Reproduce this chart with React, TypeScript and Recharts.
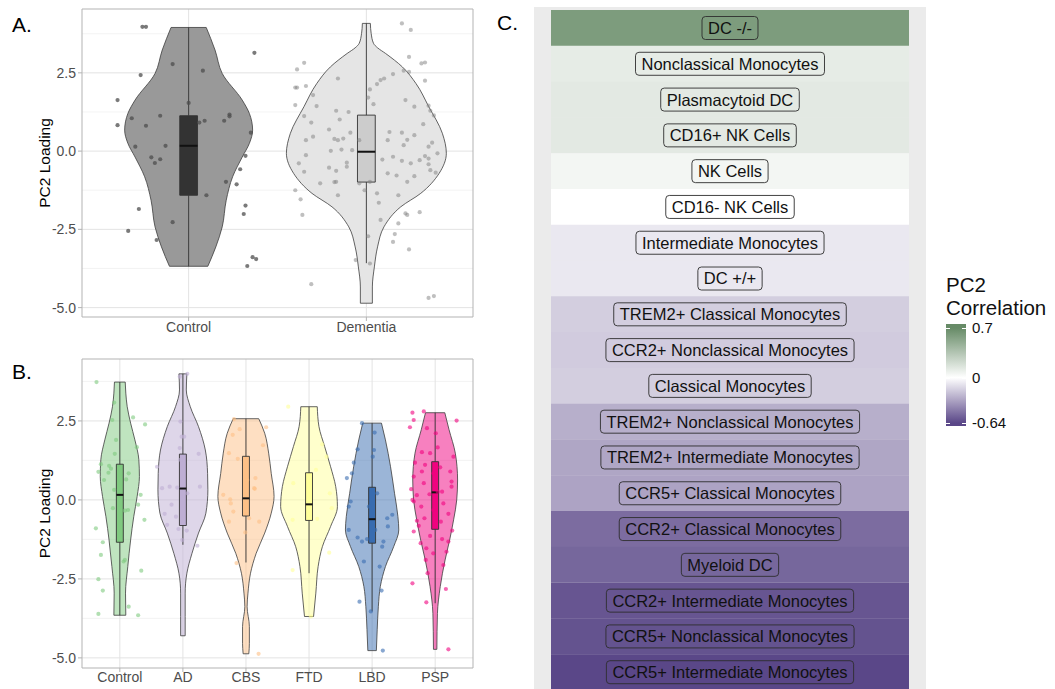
import React from 'react'
import {
  ComposedChart, Area, Line, Scatter, XAxis, YAxis, CartesianGrid, ReferenceArea,
  BarChart, Bar, Cell, LabelList,
} from 'recharts'

const groupsA = ['Control', 'Dementia']
const groupsB = ['Control', 'AD', 'CBS', 'FTD', 'LBD', 'PSP']
const yTicks = [-5, -2.5, 0, 2.5]
const yMinor = [-3.75, -1.25, 1.25, 3.75]

// violin outlines: [PC2 loading, relative density]
const violinControlA = [[3.95, 0.22], [3.23, 0.33], [2.48, 0.42], [1.63, 0.67], [1.2, 0.76], [0.67, 0.8], [0.25, 0.76], [-0.19, 0.67], [-0.82, 0.55], [-1.57, 0.47], [-2.42, 0.42], [-3.06, 0.34], [-3.68, 0.24]]
const violinDementiaA = [[4.08, 0.05], [3.76, 0.06], [3.44, 0.09], [3.3, 0.14], [3.12, 0.24], [2.69, 0.45], [2.16, 0.62], [1.42, 0.78], [0.57, 0.95], [-0.07, 1.0], [-0.71, 0.91], [-1.35, 0.68], [-1.78, 0.43], [-2.42, 0.22], [-3.06, 0.14], [-3.7, 0.1], [-4.34, 0.075], [-4.86, 0.075]]

const violinControlB = [[3.73, 0.19], [3.38, 0.21], [2.95, 0.26], [2.43, 0.38], [1.9, 0.53], [1.27, 0.67], [0.74, 0.69], [0.11, 0.61], [-0.53, 0.49], [-1.27, 0.38], [-2.11, 0.28], [-2.95, 0.2], [-3.65, 0.21]]
const violinAD = [[3.99, 0.14], [3.48, 0.12], [2.95, 0.26], [2.32, 0.55], [1.58, 0.79], [0.84, 0.87], [0.32, 0.88], [-0.42, 0.81], [-1.05, 0.55], [-1.69, 0.32], [-2.32, 0.14], [-2.95, 0.08], [-3.69, 0.08], [-4.3, 0.08]]
const violinCBS = [[2.57, 0.45], [2.11, 0.66], [1.48, 0.8], [0.84, 0.89], [0.11, 0.99], [-0.42, 0.89], [-1.05, 0.66], [-1.69, 0.36], [-2.32, 0.16], [-2.95, 0.07], [-3.38, 0.04], [-4.01, 0.12], [-4.54, 0.12], [-4.87, 0.1]]
const violinFTD = [[2.95, 0.29], [2.32, 0.35], [1.69, 0.55], [1.05, 0.76], [0.42, 0.94], [-0.21, 1.0], [-0.84, 0.76], [-1.48, 0.47], [-2.11, 0.32], [-2.95, 0.24], [-3.69, 0.16]]
const violinLBD = [[2.43, 0.33], [1.9, 0.47], [1.05, 0.65], [0.21, 0.79], [-0.53, 0.91], [-0.95, 0.94], [-1.48, 0.76], [-2.11, 0.47], [-2.74, 0.29], [-3.38, 0.22], [-4.11, 0.18], [-4.77, 0.15]]
const violinPSP = [[2.76, 0.34], [2.22, 0.49], [1.48, 0.71], [0.63, 0.79], [0.0, 0.76], [-0.63, 0.65], [-1.27, 0.51], [-1.9, 0.35], [-2.74, 0.18], [-3.59, 0.08], [-4.73, 0.06]]

// box stats: [lower whisker, q1, median, q3, upper whisker]
const boxesA = [[-3.68, -1.41, 0.17, 1.13, 3.95], [-3.58, -0.99, -0.02, 1.15, 4.08]]
const boxesB = [
  [-3.65, -1.34, 0.16, 1.13, 3.73],
  [-1.42, -0.81, 0.36, 1.45, 3.99],
  [-1.98, -0.51, 0.05, 1.38, 2.57],
  [-2.32, -0.65, -0.14, 0.86, 2.95],
  [-3.53, -1.37, -0.61, 0.4, 2.43],
  [-3.27, -0.93, 0.24, 1.21, 2.76],
]

// jittered points: [horizontal jitter, PC2 loading]
const pointsControlA = [[-0.26, 3.97], [-0.24, 3.97], [0.37, 3.14], [-0.09, 2.78], [0.08, 2.57], [-0.27, 2.43], [-0.4, 1.63], [0.0, 1.54], [-0.16, 1.13], [0.23, 1.17], [0.23, 1.11], [-0.32, 1.05], [0.2, 0.97], [0.09, 0.97], [-0.4, 0.83], [-0.24, 0.81], [0.06, 0.91], [0.35, 0.59], [-0.3, 0.14], [-0.13, 0.17], [-0.21, -0.2], [-0.16, -0.26], [-0.19, -0.38], [0.32, -0.15], [0.29, -0.58], [0.21, -0.98], [0.27, -1.06], [0.1, -1.41], [0.32, -1.74], [-0.28, -1.85], [0.31, -2.01], [-0.09, -2.27], [-0.34, -2.55], [-0.18, -2.84], [0.36, -3.39], [0.38, -3.45], [0.33, -3.67]]
const pointsDementiaA = [[0.2, 4.08], [0.25, 3.87], [0.24, 3.01], [0.33, 2.83], [0.31, 2.8], [-0.35, 2.82], [-0.39, 2.61], [0.21, 2.57], [0.24, 2.53], [0.15, 2.46], [0.1, 2.32], [0.08, 2.27], [-0.16, 2.32], [0.33, 2.25], [-0.4, 2.03], [-0.39, 2.03], [-0.34, 2.08], [0.06, 2.14], [0.02, 1.97], [0.01, 1.71], [-0.3, 1.79], [0.22, 1.63], [0.04, 1.5], [-0.4, 1.47], [-0.28, 1.44], [0.35, 1.45], [0.27, 1.42], [0.36, 1.29], [-0.1, 1.25], [-0.17, 1.29], [-0.35, 1.12], [0.38, 1.14], [-0.31, 0.91], [-0.15, 1.01], [0.32, 0.86], [-0.21, 0.69], [-0.09, 0.59], [0.13, 0.61], [0.2, 0.59], [0.27, 0.51], [0.23, 0.36], [-0.3, 0.46], [-0.18, 0.39], [-0.16, 0.35], [-0.13, 0.4], [-0.34, 0.35], [0.12, 0.35], [-0.04, 0.35], [0.37, 0.27], [0.21, 0.19], [0.35, 0.14], [-0.2, 0.01], [-0.14, 0.05], [-0.08, 0.03], [0.4, -0.07], [-0.34, -0.13], [0.33, -0.16], [0.35, -0.24], [0.3, -0.29], [0.25, -0.39], [0.2, -0.31], [0.15, -0.18], [0.09, -0.27], [0.35, -0.42], [-0.11, -0.37], [-0.38, -0.39], [-0.21, -0.53], [-0.11, -0.5], [-0.35, -0.66], [-0.17, -0.63], [0.39, -0.69], [0.12, -0.71], [0.17, -0.78], [0.27, -0.8], [0.36, -0.61], [-0.26, -1.03], [-0.18, -0.99], [-0.17, -0.98], [-0.04, -1.03], [0.02, -0.98], [0.23, -0.98], [-0.01, -1.25], [-0.4, -1.25], [-0.16, -1.41], [0.06, -1.35], [0.18, -1.41], [-0.37, -1.54], [0.07, -1.65], [0.22, -1.99], [0.23, -2.04], [0.3, -1.95], [-0.36, -2.04], [0.08, -2.2], [0.18, -2.31], [0.16, -2.65], [0.15, -2.9], [0.01, -2.72], [0.24, -3.14], [-0.06, -3.48], [0.02, -3.59], [-0.31, -4.25], [0.38, -4.63], [0.35, -4.69]]

const pointsControlB = [[-0.37, 3.73], [-0.09, 3.08], [0.21, 2.61], [0.4, 2.39], [-0.12, 2.53], [0.27, 1.67], [-0.08, 1.46], [-0.3, 1.13], [-0.17, 1.08], [-0.14, 0.99], [0.14, 0.84], [-0.34, 0.89], [-0.18, 0.86], [-0.25, 0.63], [0.1, 0.65], [0.33, 0.16], [0.29, -0.15], [0.13, -0.32], [0.08, -0.34], [-0.11, -0.26], [0.39, -0.63], [-0.38, -0.9], [-0.27, -1.34], [-0.3, -1.74], [0.08, -1.9], [0.06, -1.95], [0.34, -2.24], [-0.34, -2.51], [-0.27, -2.87], [0.14, -3.38], [-0.34, -3.61], [0.29, -3.65], [-0.06, 1.9], [-0.09, 0.32]]
const pointsAD = [[0.07, 3.99], [-0.05, 3.9], [-0.04, 2.48], [-0.02, 2.0], [0.02, 2.0], [-0.05, 1.64], [-0.04, 1.27], [0.25, 1.46], [-0.41, 1.05], [-0.21, 0.42], [-0.33, 0.37], [-0.09, 0.39], [0.27, 0.42], [0.07, 0.21], [-0.18, -0.15], [-0.29, -0.44], [-0.11, -0.53], [-0.25, -0.79], [-0.07, -0.92], [0.06, -0.97], [0.23, -1.45], [-0.01, -1.27]]
const pointsCBS = [[-0.19, 2.56], [0.32, 2.3], [-0.1, 2.24], [-0.21, 2.06], [0.27, 1.73], [-0.27, 1.48], [-0.13, 1.3], [0.15, 0.69], [0.02, 0.63], [0.14, 0.35], [-0.36, 0.16], [-0.25, 0.02], [-0.24, -0.11], [-0.2, -0.37], [0.05, -0.58], [-0.27, -0.69], [0.21, -0.69], [-0.01, -1.03], [-0.15, -2.0], [0.2, -4.87], [0.13, 0.37]]
const pointsFTD = [[-0.33, 2.95], [0.21, 1.76], [0.28, 1.37], [-0.25, 0.53], [0.33, 0.21], [0.36, -0.26], [-0.26, -0.63], [0.13, -0.6], [0.32, -1.67], [-0.26, -2.22], [0.03, -3.69], [0.11, 0.95]]
const pointsLBD = [[-0.16, 2.43], [0.04, 2.13], [-0.23, 1.6], [0.03, 1.58], [-0.29, 1.18], [-0.32, 0.84], [0.01, 1.37], [0.08, 0.21], [-0.34, -0.05], [-0.37, -0.21], [-0.05, -0.21], [0.32, -0.47], [0.24, -0.58], [-0.37, -0.95], [0.25, -0.84], [-0.23, -1.19], [-0.16, -1.32], [0.18, -1.32], [0.16, -1.48], [-0.08, -1.24], [-0.13, -1.95], [0.12, -2.11], [0.15, -2.87], [-0.2, -3.22], [-0.02, -3.53], [0.17, -4.77], [-0.4, 0.69], [0.05, -0.95]]
const pointsPSP = [[-0.36, 2.76], [-0.18, 2.8], [-0.34, 2.53], [-0.4, 2.3], [-0.13, 2.27], [0.34, 2.51], [0.01, 2.11], [0.04, 1.66], [-0.21, 1.51], [-0.08, 1.48], [0.29, 1.37], [-0.32, 1.18], [-0.16, 1.11], [0.08, 1.03], [-0.03, 0.84], [-0.34, 0.74], [-0.18, 0.53], [0.26, 0.58], [0.26, 0.42], [-0.38, 0.34], [0.11, 0.26], [-0.29, 0.15], [-0.09, 0.18], [-0.36, 0.0], [-0.34, -0.05], [0.13, -0.11], [-0.22, -0.21], [-0.03, -0.32], [0.21, -0.44], [-0.17, -0.58], [-0.29, -0.66], [0.09, -0.69], [-0.26, -0.82], [-0.34, -1.0], [0.27, -0.97], [-0.08, -1.14], [0.11, -1.24], [-0.23, -1.37], [0.21, -1.32], [-0.14, -1.53], [0.18, -1.64], [-0.03, -1.69], [-0.15, -1.9], [0.13, -2.06], [-0.12, -2.32], [-0.36, -2.64], [0.17, -2.82], [-0.14, -3.24], [0.21, -4.73], [0.04, 0.26], [-0.21, 0.9], [0.24, 0.9]]

// heatmap of PC2 correlations
const cells = ['DC -/-', 'Nonclassical Monocytes', 'Plasmacytoid DC', 'CD16+ NK Cells', 'NK Cells', 'CD16- NK Cells', 'Intermediate Monocytes', 'DC +/+', 'TREM2+ Classical Monocytes', 'CCR2+ Nonclassical Monocytes', 'Classical Monocytes', 'TREM2+ Nonclassical Monocytes', 'TREM2+ Intermediate Monocytes', 'CCR5+ Classical Monocytes', 'CCR2+ Classical Monocytes', 'Myeloid DC', 'CCR2+ Intermediate Monocytes', 'CCR5+ Nonclassical Monocytes', 'CCR5+ Intermediate Monocytes']
const correlations = [0.6, 0.115, 0.13, 0.13, 0.055, 0.0, -0.08, -0.08, -0.17, -0.18, -0.17, -0.28, -0.31, -0.32, -0.51, -0.53, -0.59, -0.6, -0.64]
const corrLimits = [-0.64, 0.7]
const legendBreaks = [0.7, 0, -0.64]

const accent = ['#7FC97F', '#BEAED4', '#FDC086', '#FFFF99', '#386CB0', '#F0027F']
const HALF = 0.45
const FONT = '"Liberation Sans", Arial, sans-serif'
const LOW = [90, 71, 136]
const HIGH = [103, 139, 103]

function heatColor(v: number) {
  const [end, t] = v < 0 ? [LOW, v / corrLimits[0]] : [HIGH, v / corrLimits[1]]
  const c = end.map((e) => Math.round(255 + (e - 255) * Math.min(1, t)))
  return `rgb(${c[0]},${c[1]},${c[2]})`
}

type Style = { violin: string; violinOpacity: number; box: string; point: string; pointOpacity: number }

function groupSeries(key: string, center: number, profile: number[][], box: number[], pts: number[][], st: Style, boxHalf: number) {
  const outline = '#3C3C3C'
  const top = profile[0]
  const bottom = profile[profile.length - 1]
  const shape = profile.map(([v, d]) => ({ y: v, span: [center - d * HALF, center + d * HALF] }))
  const capTop = [{ y: top[0], w: center - top[1] * HALF }, { y: top[0], w: center + top[1] * HALF }]
  const capBottom = [{ y: bottom[0], w: center - bottom[1] * HALF }, { y: bottom[0], w: center + bottom[1] * HALF }]
  const [lo, q1, med, q3, hi] = box
  const boxFill = [{ y: q1, span: [center - boxHalf, center + boxHalf] }, { y: q3, span: [center - boxHalf, center + boxHalf] }]
  const boxLine = [
    { y: q1, w: center - boxHalf }, { y: q3, w: center - boxHalf }, { y: q3, w: center + boxHalf },
    { y: q1, w: center + boxHalf }, { y: q1, w: center - boxHalf },
  ]
  const medLine = [{ y: med, w: center - boxHalf }, { y: med, w: center + boxHalf }]
  const whiskTop = [{ y: q3, w: center }, { y: hi, w: center }]
  const whiskBottom = [{ y: lo, w: center }, { y: q1, w: center }]
  const jitter = pts.map(([dx, v]) => ({ x: center + dx, y: v }))
  const lineProps = { type: 'linear' as const, dataKey: 'w', dot: false, activeDot: false, isAnimationActive: false }
  return [
    <Area key={key + 'v'} data={shape} dataKey="span" type="monotone" fill={st.violin} fillOpacity={st.violinOpacity} stroke={outline} strokeWidth={0.8} dot={false} activeDot={false} isAnimationActive={false} />,
    <Area key={key + 'b'} data={boxFill} dataKey="span" type="linear" fill={st.box} fillOpacity={1} stroke="none" dot={false} activeDot={false} isAnimationActive={false} />,
    <Line key={key + 'ct'} data={capTop} stroke={outline} strokeWidth={0.8} {...lineProps} />,
    <Line key={key + 'cb'} data={capBottom} stroke={outline} strokeWidth={0.8} {...lineProps} />,
    <Line key={key + 'wt'} data={whiskTop} stroke="#333" strokeWidth={0.9} {...lineProps} />,
    <Line key={key + 'wb'} data={whiskBottom} stroke="#333" strokeWidth={0.9} {...lineProps} />,
    <Line key={key + 'bl'} data={boxLine} stroke="#333" strokeWidth={0.9} {...lineProps} />,
    <Line key={key + 'md'} data={medLine} stroke="#111" strokeWidth={2} {...lineProps} />,
    <Scatter key={key + 'p'} data={jitter} isAnimationActive={false}
      shape={(p: any) => <circle cx={p.cx} cy={p.cy} r={2.1} fill={st.point} fillOpacity={st.pointOpacity} />} />,
  ]
}

function ViolinPanel(props: {
  groups: string[]; violins: number[][][]; boxes: number[][]; points: number[][][]; styles: Style[]
  yDomain: number[]; width: number; height: number; top: number; xHeight: number; boxHalf: number; tickMargin: number
}) {
  const { groups, violins, boxes, points, styles, yDomain, width, height, top, xHeight, boxHalf, tickMargin } = props
  const xDomain = [0.4, groups.length + 0.6]
  const tickStyle = { fontSize: 14, fill: '#4D4D4D', fontFamily: FONT }
  return (
    <ComposedChart layout="vertical" width={width} height={height} margin={{ top, right: 7, bottom: 0, left: 0 }}>
      <CartesianGrid horizontalValues={yMinor} vertical={false} stroke="#F0F0F0" strokeWidth={0.8} />
      <CartesianGrid horizontalValues={yTicks} verticalValues={groups.map((_, i) => i + 1)} stroke="#E3E3E3" strokeWidth={1} />
      <XAxis type="number" dataKey="x" domain={xDomain} allowDataOverflow ticks={groups.map((_, i) => i + 1)} interval={0}
        tickFormatter={(v: number) => groups[v - 1]} height={xHeight} axisLine={false} tickSize={4} tickMargin={tickMargin}
        tickLine={{ stroke: '#B3B3B3' }} tick={tickStyle} />
      <YAxis type="number" dataKey="y" domain={yDomain} allowDataOverflow reversed ticks={yTicks} interval={0} width={82}
        tickFormatter={(v: number) => v.toFixed(1)} axisLine={false} tickSize={4} tickMargin={2}
        tickLine={{ stroke: '#B3B3B3' }} tick={tickStyle}
        label={{ value: 'PC2 Loading', angle: -90, position: 'center', dx: 3, style: { fontSize: 15.5, fill: '#000', fontFamily: FONT } }} />
      {groups.flatMap((g, i) => groupSeries(g + i, i + 1, violins[i], boxes[i], points[i], styles[i], boxHalf))}
      <ReferenceArea x1={xDomain[0]} x2={xDomain[1]} y1={yDomain[0]} y2={yDomain[1]} fill="none" stroke="#B3B3B3" strokeWidth={1} ifOverflow="visible" />
    </ComposedChart>
  )
}

let measureCtx: CanvasRenderingContext2D | null = null
const LABEL_FONT = `16.5px ${FONT}`
function textWidth(s: string) {
  if (!measureCtx) measureCtx = document.createElement('canvas').getContext('2d')
  if (!measureCtx) return s.length * 8
  measureCtx.font = LABEL_FONT
  return measureCtx.measureText(s).width
}

const renderCellLabel = (props: any) => {
  const vb = props.viewBox ?? props
  const { x, y, width, height } = vb
  const value = String(props.value)
  const idx = cells.indexOf(value)
  const cx = x + width / 2
  const cy = y + height / 2
  const w = textWidth(value) + 12
  return (
    <g>
      <rect x={cx - w / 2} y={cy - 11.5} width={w} height={23} rx={3.5} fill={heatColor(correlations[idx])} stroke="#2E2E2E" strokeWidth={0.9} />
      <text x={cx} y={cy} dy="0.36em" textAnchor="middle" fill="#111" style={{ font: LABEL_FONT }}>{value}</text>
    </g>
  )
}

function Heatmap() {
  const rows = cells.map((cell, i) => ({ cell, corr: correlations[i], tile: 1 }))
  return (
    <BarChart layout="vertical" data={rows} width={392} height={685} margin={{ top: 3, right: 17, bottom: 2, left: 17 }} barCategoryGap={0}>
      <XAxis type="number" domain={[0, 1]} hide />
      <YAxis type="category" dataKey="cell" hide />
      <Bar dataKey="tile" isAnimationActive={false}>
        {rows.map((r, i) => <Cell key={i} fill={heatColor(r.corr)} />)}
        <LabelList dataKey="cell" content={renderCellLabel} />
      </Bar>
    </BarChart>
  )
}

function ColorLegend() {
  const barTop = 324
  const barH = 102
  const y0 = 4
  const y1 = 99
  const pos = (v: number) => y0 + ((corrLimits[1] - v) / (corrLimits[1] - corrLimits[0])) * (y1 - y0)
  const stops = [0.7, 0.5, 0.3, 0.15, 0, -0.15, -0.3, -0.5, -0.64]
    .map((v) => `${heatColor(v)} ${pos(v)}px`).join(', ')
  return (
    <div style={{ position: 'absolute', left: 946, top: 273 }}>
      <div style={{ fontSize: 20.5, lineHeight: '23px', color: '#111' }}>PC2<br />Correlation</div>
      <div style={{
        position: 'absolute', left: 0, top: barTop - 273, width: 20, height: barH,
        background: `linear-gradient(to bottom, ${stops})`,
      }}>
        {legendBreaks.map((b) => (
          <React.Fragment key={b}>
            <div style={{ position: 'absolute', left: 0, top: pos(b), width: 4, height: 1, background: '#fff' }} />
            <div style={{ position: 'absolute', right: 0, top: pos(b), width: 4, height: 1, background: '#fff' }} />
          </React.Fragment>
        ))}
      </div>
      {legendBreaks.map((b) => (
        <div key={b} style={{
          position: 'absolute', left: 26, top: barTop - 273 + pos(b), transform: 'translateY(-50%)',
          fontSize: 15, lineHeight: '16px', color: '#111', whiteSpace: 'nowrap',
        }}>{String(b)}</div>
      ))}
    </div>
  )
}

const panelTitle = (text: string, left: number, top: number) => (
  <div style={{ position: 'absolute', left, top, fontSize: 21, lineHeight: '21px', color: '#000' }}>{text}</div>
)

export default function App() {
  const stylesA: Style[] = [
    { violin: '#999999', violinOpacity: 1, box: '#333333', point: '#4D4D4D', pointOpacity: 0.75 },
    { violin: '#E5E5E5', violinOpacity: 1, box: '#CCCCCC', point: '#808080', pointOpacity: 0.5 },
  ]
  const stylesB: Style[] = accent.map((c) => ({ violin: c, violinOpacity: 0.5, box: c, point: c, pointOpacity: 0.6 }))
  return (
    <div style={{ position: 'absolute', left: 0, top: 0, width: 1055, height: 689, overflow: 'hidden', background: '#fff', fontFamily: FONT }}>
      <div style={{ position: 'absolute', left: 0, top: 0 }}>
        <ViolinPanel groups={groupsA} violins={[violinControlA, violinDementiaA]} boxes={boxesA}
          points={[pointsControlA, pointsDementiaA]} styles={stylesA} yDomain={[-5.3, 4.54]}
          width={480} height={340} top={9} xHeight={23} boxHalf={0.05} tickMargin={1} />
      </div>
      <div style={{ position: 'absolute', left: 0, top: 340 }}>
        <ViolinPanel groups={groupsB} violins={[violinControlB, violinAD, violinCBS, violinFTD, violinLBD, violinPSP]} boxes={boxesB}
          points={[pointsControlB, pointsAD, pointsCBS, pointsFTD, pointsLBD, pointsPSP]} styles={stylesB} yDomain={[-5.32, 4.46]}
          width={480} height={349} top={19} xHeight={21} boxHalf={0.055} tickMargin={0} />
      </div>
      <div style={{ position: 'absolute', left: 534, top: 7, width: 392, height: 685, background: '#EBEBEB' }}>
        <Heatmap />
      </div>
      <ColorLegend />
      {panelTitle('A.', 12, 14)}
      {panelTitle('B.', 12, 361)}
      {panelTitle('C.', 497, 12)}
    </div>
  )
}
